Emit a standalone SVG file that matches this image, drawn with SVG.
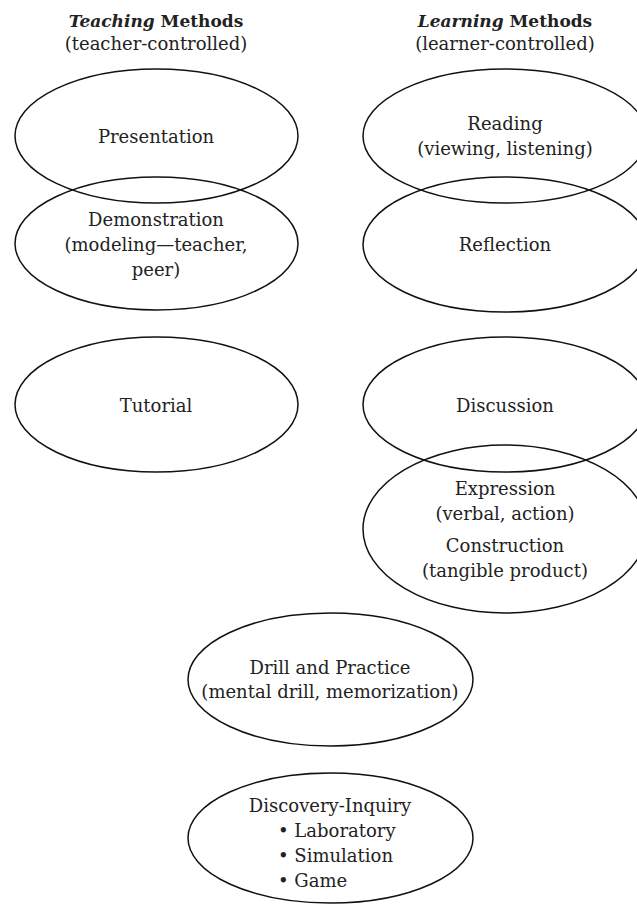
<svg xmlns="http://www.w3.org/2000/svg" width="637" height="906" viewBox="0 0 637 906">
<style>
  text { font-family: "DejaVu Serif", "Liberation Serif", serif; font-size: 18px; fill: #222; text-anchor: middle; }
  .title { font-weight: bold; font-size: 17px; }
  .it { font-style: italic; }
  .left { text-anchor: start; }
  ellipse { fill: none; stroke: #111; stroke-width: 1.5; }
</style>
<rect x="0" y="0" width="637" height="906" fill="#fff"/>
<g id="header-teaching">
  <text class="title" x="156" y="27"><tspan class="it">Teaching</tspan> Methods</text>
  <text x="156" y="50">(teacher-controlled)</text>
</g>
<g id="header-learning">
  <text class="title" x="505" y="27"><tspan class="it">Learning</tspan> Methods</text>
  <text x="505" y="50">(learner-controlled)</text>
</g>
<g id="presentation">
  <ellipse cx="156.5" cy="136" rx="141.5" ry="67"/>
  <text x="156" y="143">Presentation</text>
</g>
<g id="demonstration">
  <ellipse cx="156.5" cy="243.5" rx="141.5" ry="66.5"/>
  <text x="156" y="226">Demonstration</text>
  <text x="156" y="251">(modeling—teacher,</text>
  <text x="156" y="276">peer)</text>
</g>
<g id="tutorial">
  <ellipse cx="156.5" cy="404.5" rx="141.5" ry="67.5"/>
  <text x="156" y="412">Tutorial</text>
</g>
<g id="reading">
  <ellipse cx="505" cy="136" rx="142" ry="67"/>
  <text x="505" y="130">Reading</text>
  <text x="505" y="155">(viewing, listening)</text>
</g>
<g id="reflection">
  <ellipse cx="505" cy="244.5" rx="142" ry="67.5"/>
  <text x="505" y="251">Reflection</text>
</g>
<g id="discussion">
  <ellipse cx="505" cy="404.5" rx="142" ry="67.5"/>
  <text x="505" y="412">Discussion</text>
</g>
<g id="expression-construction">
  <ellipse cx="505" cy="529" rx="142" ry="84"/>
  <text x="505" y="495">Expression</text>
  <text x="505" y="520">(verbal, action)</text>
  <text x="505" y="552">Construction</text>
  <text x="505" y="577">(tangible product)</text>
</g>
<g id="drill-practice">
  <ellipse cx="330.5" cy="679.5" rx="142.5" ry="66.5"/>
  <text x="330" y="674">Drill and Practice</text>
  <text x="330" y="698">(mental drill, memorization)</text>
</g>
<g id="discovery-inquiry">
  <ellipse cx="330.5" cy="838" rx="142.5" ry="65"/>
  <text x="330" y="812">Discovery-Inquiry</text>
  <text class="left" x="278" y="837">• Laboratory</text>
  <text class="left" x="278" y="862">• Simulation</text>
  <text class="left" x="278" y="887">• Game</text>
</g>
<g id="connectors"></g>
</svg>
